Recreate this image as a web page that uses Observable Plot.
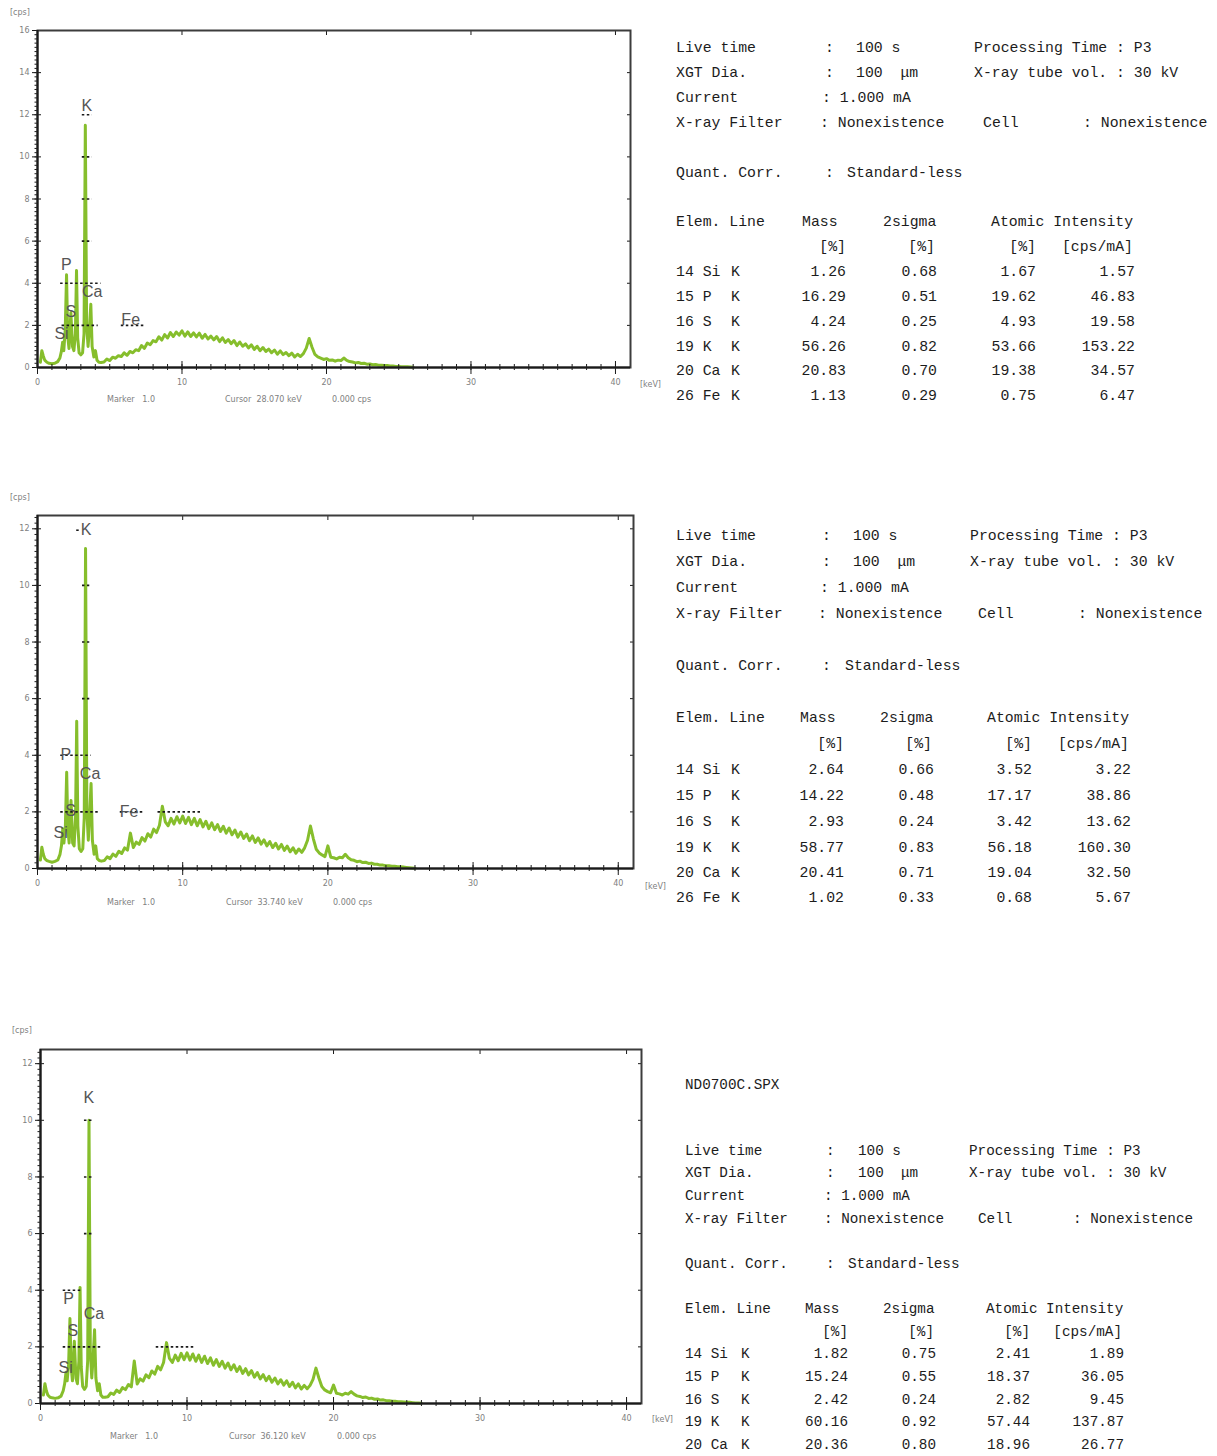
<!DOCTYPE html>
<html><head><meta charset="utf-8">
<script src="https://cdn.jsdelivr.net/npm/d3@7"></script>
<script src="https://cdn.jsdelivr.net/npm/@observablehq/plot@0.6"></script>
<style>
body{margin:0;background:#fff;}
#page{position:relative;width:1217px;height:1456px;overflow:hidden;background:#fff;}
.t{position:absolute;white-space:pre;font-family:"Liberation Mono","DejaVu Sans Mono",monospace;color:#1c1c1c;line-height:18px;}
.s{position:absolute;white-space:pre;font-family:"DejaVu Sans","Liberation Sans",sans-serif;color:#808080;font-size:8px;line-height:10px;}
.panel{position:absolute;left:0;}
</style></head><body><div id="page"></div>
<script>
// ---------------- DATA ----------------
// channel energies (keV): low-energy peak region and continuum region
const lowE = [0.20,0.30,0.40,0.50,0.65,0.80,1.00,1.20,1.40,1.55,
  1.65,1.74,1.82,1.92,2.01,2.09,2.18,2.31,2.42,2.52,
  2.62,2.70,2.78,2.88,3.00,3.12,3.22,3.31,3.40,3.50,
  3.59,3.69,3.78,3.90,4.01,4.12,4.25,4.40];
const contE = [4.6,4.8,5.0,5.2,5.4,5.6,5.8,6.0,6.2,6.4,
  6.6,6.8,7.0,7.2,7.4,7.6,7.8,8.0,8.2,8.4,
  8.6,8.8,9.0,9.2,9.4,9.6,9.8,10.0,10.2,10.4,
  10.6,10.8,11.0,11.2,11.4,11.6,11.8,12.0,12.2,12.4,
  12.6,12.8,13.0,13.2,13.4,13.6,13.8,14.0,14.2,14.4,
  14.6,14.8,15.0,15.2,15.4,15.6,15.8,16.0,16.2,16.4,
  16.6,16.8,17.0,17.2,17.4,17.6,17.8,18.0,18.2,18.4,
  18.6,18.8,19.0,19.2,19.4,19.6,19.8,20.0,20.2,20.4,
  20.6,20.8,21.0,21.2,21.4,21.6,21.8,22.0,22.2,22.4,
  22.6,22.8,23.0,23.2,23.4,23.6,23.8,24.0,24.2,24.4,
  24.6,24.8,25.0,25.2,25.4,25.6,25.8,26.0];

// spectrum 1 (cps)
const low1 = [0.25,0.80,0.55,0.35,0.25,0.20,0.18,0.20,0.28,0.45,
  0.75,1.20,0.80,1.80,4.40,1.50,0.90,2.60,1.00,0.80,
  1.60,4.60,1.40,0.70,0.60,0.70,1.60,11.50,2.00,1.00,
  1.80,3.00,1.00,0.50,0.80,0.35,0.25,0.24];
const cont1 = [0.26,0.40,0.33,0.49,0.44,0.56,0.52,0.70,0.58,0.76,
  0.70,0.84,0.80,1.04,0.91,1.16,1.08,1.28,1.22,1.46,
  1.30,1.56,1.40,1.66,1.47,1.68,1.54,1.74,1.49,1.69,
  1.47,1.64,1.45,1.63,1.39,1.57,1.35,1.49,1.31,1.47,
  1.23,1.41,1.19,1.33,1.13,1.28,1.04,1.21,1.01,1.12,
  0.93,1.08,0.86,1.01,0.80,0.95,0.76,0.87,0.70,0.83,
  0.63,0.79,0.61,0.71,0.56,0.68,0.50,0.63,0.52,0.66,
  0.92,1.38,0.96,0.62,0.50,0.44,0.38,0.42,0.34,0.36,
  0.30,0.35,0.33,0.45,0.34,0.28,0.26,0.22,0.24,0.19,
  0.20,0.16,0.17,0.13,0.14,0.11,0.11,0.09,0.09,0.07,
  0.07,0.05,0.05,0.04,0.03,0.03,0.02,0.01];
// spectrum 2
const low2 = [0.30,0.75,0.50,0.35,0.28,0.25,0.22,0.25,0.30,0.50,
  0.80,1.40,0.90,1.50,3.40,1.40,0.90,2.40,0.90,0.80,
  1.80,5.20,1.50,0.70,0.60,0.70,1.80,11.30,2.00,1.00,
  1.90,3.00,1.00,0.50,0.80,0.35,0.28,0.26];
const cont2 = [0.28,0.41,0.35,0.51,0.43,0.61,0.53,0.73,0.65,1.25,
  0.74,0.93,0.85,1.09,0.97,1.23,1.11,1.39,1.27,1.53,
  2.20,1.65,1.51,1.77,1.57,1.83,1.61,1.85,1.59,1.81,
  1.55,1.77,1.51,1.73,1.47,1.67,1.41,1.61,1.37,1.55,
  1.31,1.49,1.25,1.43,1.19,1.36,1.11,1.29,1.06,1.22,
  0.98,1.15,0.92,1.08,0.86,1.01,0.80,0.95,0.74,0.89,
  0.69,0.85,0.64,0.79,0.59,0.73,0.54,0.69,0.57,0.73,
  1.00,1.50,1.05,0.68,0.55,0.48,0.42,0.80,0.40,0.38,
  0.34,0.40,0.38,0.50,0.38,0.31,0.29,0.24,0.26,0.21,
  0.22,0.18,0.19,0.15,0.15,0.12,0.12,0.10,0.10,0.08,
  0.08,0.06,0.06,0.05,0.04,0.03,0.02,0.01];
// spectrum 3
const low3 = [0.30,0.70,0.45,0.30,0.22,0.20,0.18,0.20,0.26,0.45,
  0.70,1.10,0.80,1.40,3.00,1.30,0.80,2.20,0.90,0.70,
  1.50,4.10,1.30,0.60,0.50,0.60,1.50,10.00,1.80,0.90,
  1.60,2.60,0.90,0.45,0.70,0.30,0.22,0.22];
const cont3 = [0.24,0.37,0.32,0.47,0.39,0.56,0.49,0.67,0.59,1.50,
  0.69,0.87,0.79,1.01,0.91,1.15,1.04,1.31,1.19,1.45,
  2.15,1.59,1.45,1.71,1.51,1.77,1.55,1.79,1.53,1.75,
  1.49,1.71,1.45,1.67,1.41,1.61,1.35,1.55,1.31,1.49,
  1.25,1.43,1.19,1.37,1.13,1.30,1.06,1.23,1.01,1.16,
  0.93,1.09,0.87,1.02,0.81,0.96,0.75,0.90,0.69,0.84,
  0.65,0.80,0.60,0.75,0.55,0.69,0.51,0.64,0.52,0.64,
  0.85,1.25,0.90,0.60,0.48,0.42,0.38,0.65,0.36,0.34,
  0.30,0.36,0.33,0.42,0.33,0.27,0.25,0.21,0.23,0.18,
  0.19,0.15,0.16,0.12,0.13,0.10,0.10,0.08,0.08,0.06,
  0.06,0.05,0.04,0.04,0.03,0.02,0.02,0.01];

// element marker labels [element, keV, cps]
const labels1 = [["K",3.42,12.4],["P",2.0,4.85],["Ca",3.78,3.6],["S",2.3,2.65],["Si",1.66,1.6],["Fe",6.45,2.25]];
const labels2 = [["K",3.35,11.95],["P",1.95,4.0],["Ca",3.62,3.35],["S",2.27,2.05],["Si",1.6,1.25],["Fe",6.3,2.0]];
const labels3 = [["K",3.3,10.8],["P",1.92,3.7],["Ca",3.65,3.18],["S",2.2,2.58],["Si",1.72,1.27]];
// marker dashes [keV from, keV to, cps level]
const dashes1 = [[1.6,4.4,4],[1.7,4.2,2],[5.8,7.5,2],[3.1,3.8,6],[3.1,3.8,8],[3.1,3.8,10],[3.1,3.8,12]];
const dashes2 = [[1.6,3.7,4],[1.6,4.2,2],[5.7,7.3,2],[8.3,11.3,2],[3.1,3.6,6],[3.1,3.6,8],[3.1,3.6,10],[2.7,2.9,11.95]];
const dashes3 = [[1.55,2.75,4],[1.55,4.25,2],[7.9,10.6,2],[3.0,3.6,6],[3.0,3.6,8],[3.0,3.6,10]];

const xTicks = [0,10,20,30,40];
const cursorKeV = ["28.070","33.740","36.120"];

// report text
const metaLabels = ["Live time","XGT Dia.","Current","X-ray Filter"];
const liveTime = "100 s", xgtDia = "100  \u03bcm", current = "1.000 mA", filterTxt = "Nonexistence";
const procTime = "Processing Time : P3", tubeVol = "X-ray tube vol. : 30 kV", cellTxt = "Nonexistence";
const quantTxt = "Standard-less";
const fileName3 = "ND0700C.SPX";
const elements = ["14 Si","15 P","16 S","19 K","20 Ca","26 Fe"];
const mass1 = [1.26,16.29,4.24,56.26,20.83,1.13];
const sigma1 = [0.68,0.51,0.25,0.82,0.70,0.29];
const atomic1 = [1.67,19.62,4.93,53.66,19.38,0.75];
const inten1 = [1.57,46.83,19.58,153.22,34.57,6.47];
const mass2 = [2.64,14.22,2.93,58.77,20.41,1.02];
const sigma2 = [0.66,0.48,0.24,0.83,0.71,0.33];
const atomic2 = [3.52,17.17,3.42,56.18,19.04,0.68];
const inten2 = [3.22,38.86,13.62,160.30,32.50,5.67];
const mass3 = [1.82,15.24,2.42,60.16,20.36];
const sigma3 = [0.75,0.55,0.24,0.92,0.80];
const atomic3 = [2.41,18.37,2.82,57.44,18.96];
const inten3 = [1.89,36.05,9.45,137.87,26.77];

// ---------------- RENDER ----------------
const page = document.getElementById("page");
const energyKeV = lowE.concat(contE);
const green = "#86be2c";
const ink = "#1a1a1a";

function spectrum(cfg) {
  const cps = cfg.low.concat(cfg.cont);
  const data = energyKeV.map((e, i) => ({e, c: cps[i]}));
  const yMajor = d3.range(0, cfg.yMax + 0.001, 2);
  const yMinor = d3.range(0, cfg.yMax, 0.2);
  const xMinor = d3.range(0, 41, 1);
  const none = () => "";
  const lab = cfg.labels.map(([el, e, c]) => ({el, e, c}));
  const dsh = cfg.dashes.map(([e1, e2, c]) => ({e1, e2, c}));
  return Plot.plot({
    width: cfg.width, height: cfg.height,
    marginLeft: cfg.ml, marginRight: cfg.mr, marginTop: cfg.mt, marginBottom: cfg.mb,
    x: {domain: [0, cfg.xMax], label: null},
    y: {domain: [0, cfg.yMax], label: null},
    style: {background: "transparent", fontFamily: "DejaVu Sans, sans-serif", fontSize: "8px", overflow: "visible"},
    marks: [
      Plot.line(data, {x: "e", y: "c", stroke: green, strokeWidth: 3, strokeLinejoin: "round"}),
      Plot.axisY({ticks: yMinor, tickSize: 2.5, tickFormat: none, stroke: ink}),
      Plot.axisY({ticks: yMajor, tickSize: 5, tickPadding: 3, stroke: ink, fill: "#808080", tickFormat: d => d}),
      Plot.axisY({ticks: yMajor, tickSize: -4, tickFormat: none, stroke: ink}),
      Plot.axisY({anchor: "right", ticks: yMajor, tickSize: -4, tickFormat: none, stroke: ink}),
      Plot.axisX({ticks: xMinor, tickSize: 3, tickFormat: none, stroke: ink}),
      Plot.axisX({ticks: xMinor, tickSize: -3, tickFormat: none, stroke: ink}),
      Plot.axisX({ticks: xTicks, tickSize: 7, tickPadding: 5, stroke: ink, fill: "#808080", tickFormat: d => d}),
      Plot.axisX({ticks: xTicks, tickSize: -6, tickFormat: none, stroke: ink}),
      Plot.axisX({anchor: "top", ticks: xTicks, tickSize: -4, tickFormat: none, stroke: ink}),
      Plot.frame({stroke: "#3c3c3c", strokeWidth: 2}),
      Plot.ruleX([0], {stroke: ink, strokeWidth: 2}),
      Plot.ruleY([0], {stroke: ink, strokeWidth: 2}),
      Plot.ruleY(dsh, {y: "c", x1: "e1", x2: "e2", stroke: ink, strokeWidth: 1.6, strokeDasharray: "2.5,2.5"}),
      Plot.text(lab, {x: "e", y: "c", text: "el", fontSize: 16, fill: "#555", fontFamily: "Liberation Sans, sans-serif"})
    ]
  });
}

const panels = [
  {top: 0, width: 680, height: 410, ml: 37, mr: 50, mt: 30, mb: 43, xMax: 41.04, yMax: 16, low: low1, cont: cont1, labels: labels1, dashes: dashes1,
   cps: [10, 8], kev: [640, 380], mark: [107, 395], cur: [225, 332]},
  {top: 485, width: 680, height: 430, ml: 37, mr: 47, mt: 30, mb: 47, xMax: 41.05, yMax: 12.47, low: low2, cont: cont2, labels: labels2, dashes: dashes2,
   cps: [10, 493], kev: [645, 882], mark: [107, 898], cur: [226, 333]},
  {top: 1020, width: 690, height: 436, ml: 40, mr: 49, mt: 29, mb: 53, xMax: 41.02, yMax: 12.5, low: low3, cont: cont3, labels: labels3, dashes: dashes3,
   cps: [12, 1026], kev: [652, 1415], mark: [110, 1432], cur: [229, 337]}
];

function small(txt, x, y) {
  const s = document.createElement("span");
  s.className = "s"; s.textContent = txt;
  s.style.left = x + "px"; s.style.top = y + "px";
  page.appendChild(s);
}

panels.forEach((p, i) => {
  const svg = spectrum(p);
  const wrap = document.createElement("div");
  wrap.className = "panel";
  wrap.style.top = p.top + "px";
  wrap.appendChild(svg);
  page.appendChild(wrap);
  small("[cps]", p.cps[0], p.cps[1]);
  small("[keV]", p.kev[0], p.kev[1]);
  small("Marker   1.0", p.mark[0], p.mark[1]);
  small("Cursor  " + cursorKeV[i] + " keV", p.cur[0], p.mark[1]);
  small("0.000 cps", p.cur[1], p.mark[1]);
});

function addText(txt, x, y, size, align) {
  const s = document.createElement("span");
  s.className = "t";
  s.textContent = txt;
  s.style.fontSize = size + "px";
  s.style.top = (y - 9) + "px";
  if (align === "right") s.style.right = (1217 - x) + "px"; else s.style.left = x + "px";
  page.appendChild(s);
}

function report(L, mass, sigma, atomic, inten) {
  const f = L.font, y = L.ys;
  addText(metaLabels[0], L.x0, y[0], f); addText(":", L.colon, y[0], f); addText(liveTime, L.val, y[0], f); addText(procTime, L.right, y[0], f);
  addText(metaLabels[1], L.x0, y[1], f); addText(":", L.colon, y[1], f); addText(xgtDia, L.val, y[1], f); addText(tubeVol, L.right, y[1], f);
  addText(metaLabels[2], L.x0, y[2], f); addText(": " + current, L.curColon, y[2], f);
  addText(metaLabels[3], L.x0, y[3], f); addText(": " + filterTxt, L.filtColon, y[3], f);
  addText("Cell", L.cell, y[3], f); addText(": " + cellTxt, L.cellColon, y[3], f);
  addText("Quant. Corr.", L.x0, y[4], f); addText(":", L.colon, y[4], f); addText(quantTxt, L.std, y[4], f);
  addText("Elem. Line", L.x0, y[5], f); addText("Mass", L.massL, y[5], f); addText("2sigma", L.sigL, y[5], f); addText("Atomic Intensity", L.atomL, y[5], f);
  addText("[%]", L.massR, y[6], f, "right"); addText("[%]", L.sigR - 2, y[6], f, "right"); addText("[%]", L.atomR, y[6], f, "right"); addText("[cps/mA]", L.intR - 2, y[6], f, "right");
  mass.forEach((m, k) => {
    const yy = y[7 + k];
    addText(elements[k], L.x0, yy, f); addText("K", L.lineK, yy, f);
    addText(m.toFixed(2), L.massR, yy, f, "right");
    addText(sigma[k].toFixed(2), L.sigR, yy, f, "right");
    addText(atomic[k].toFixed(2), L.atomR, yy, f, "right");
    addText(inten[k].toFixed(2), L.intR, yy, f, "right");
  });
}

report({x0: 676, font: 14.8, ys: [48,73,98,123,173,222,247,272,297,322,347,371,396],
  colon: 825, val: 856, curColon: 822, filtColon: 820, right: 974, cell: 983, cellColon: 1083, std: 847,
  massL: 802, massR: 846, sigL: 883, sigR: 937, atomL: 991, atomR: 1036, intR: 1135, lineK: 731},
  mass1, sigma1, atomic1, inten1);
report({x0: 676, font: 14.8, ys: [536,562,588,614,666,718,744,770,796,822,848,873,898],
  colon: 822, val: 853, curColon: 820, filtColon: 818, right: 970, cell: 978, cellColon: 1078, std: 845,
  massL: 800, massR: 844, sigL: 880, sigR: 934, atomL: 987, atomR: 1032, intR: 1131, lineK: 731},
  mass2, sigma2, atomic2, inten2);
addText(fileName3, 685, 1085, 14.3);
report({x0: 685, font: 14.3, ys: [1151,1173,1196,1219,1264,1309,1332,1354,1377,1400,1422,1445],
  colon: 826, val: 858, curColon: 824, filtColon: 824, right: 969, cell: 978, cellColon: 1073, std: 848,
  massL: 805, massR: 848, sigL: 883, sigR: 936, atomL: 986, atomR: 1030, intR: 1124, lineK: 741},
  mass3, sigma3, atomic3, inten3);
</script></body></html>
